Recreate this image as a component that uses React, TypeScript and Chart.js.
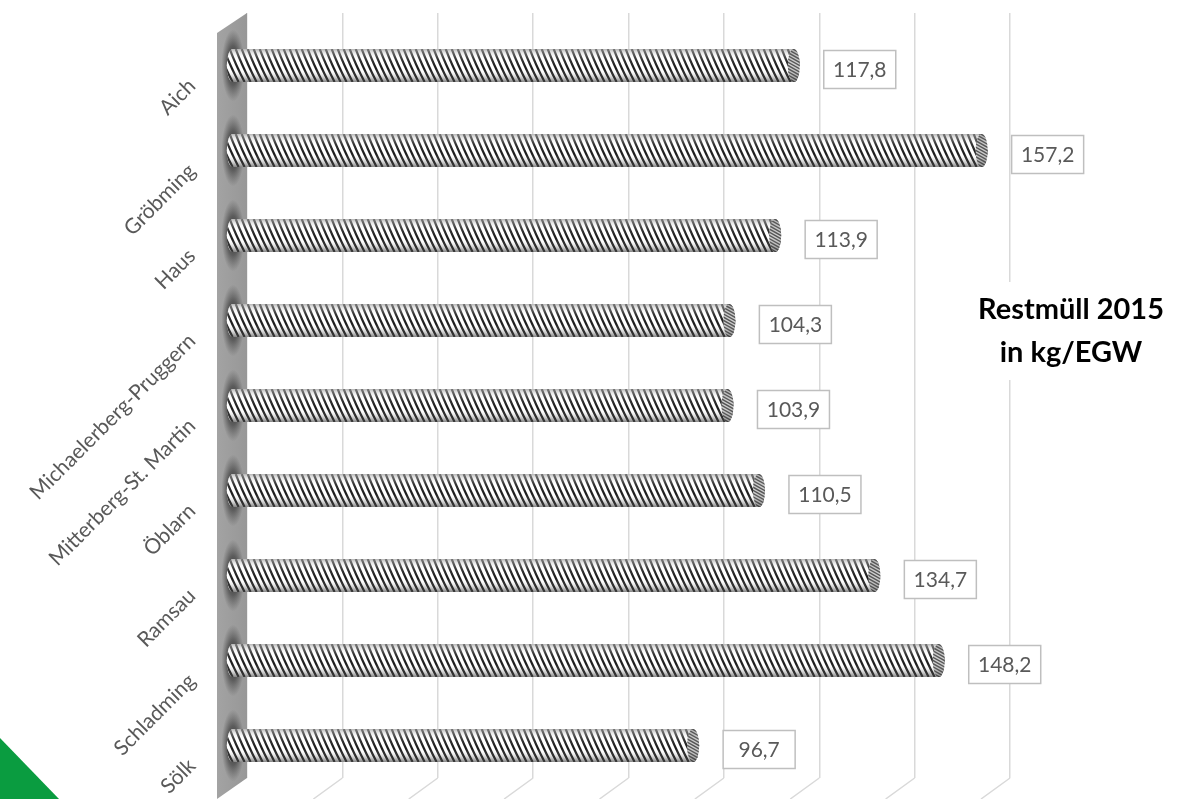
import React, { useEffect, useRef } from 'react';
import { Chart, registerables } from 'chart.js';

Chart.register(...registerables);

// ---- data ----
const categories = [
  'Aich',
  'Gröbming',
  'Haus',
  'Michaelerberg-Pruggern',
  'Mitterberg-St. Martin',
  'Öblarn',
  'Ramsau',
  'Schladming',
  'Sölk',
];
const values = [117.8, 157.2, 113.9, 104.3, 103.9, 110.5, 134.7, 148.2, 96.7];
const titleLines = ['Restmüll 2015', 'in kg/EGW'];
const axisMin = 0;
const axisMax = 160;
const gridStep = 20;

const fmt = (v: number) => v.toFixed(1).replace('.', ',');

// ---- style constants ----
const FRONT_DX = -9; // offset of the bar (front) plane vs. the grid (back) plane
const FRONT_DY = 10;
const DEPTH_X = 29; // depth of wall / floor
const DEPTH_Y = 21;
const FONT = 'Lato, "Open Sans", sans-serif';
const LABEL_COLOR = '#595959';
const GRID_COLOR = '#d9d9d9';

function drawCylinder(ctx: CanvasRenderingContext2D, xStart: number, xEnd: number, cy: number, h: number) {
  const rx = 6;
  const ry = h / 2;
  const top = cy - ry;
  const bot = cy + ry;
  const xc = xEnd - rx;
  const xl = xStart + rx;

  ctx.save();
  ctx.beginPath();
  ctx.moveTo(xl, top);
  ctx.lineTo(xc, top);
  ctx.ellipse(xc, cy, rx, ry, 0, -Math.PI / 2, Math.PI / 2);
  ctx.lineTo(xl, bot);
  ctx.ellipse(xl, cy, rx, ry, 0, Math.PI / 2, (3 * Math.PI) / 2);
  ctx.closePath();
  ctx.fillStyle = '#ffffff';
  ctx.fill();
  ctx.clip();

  // diagonal stripes
  ctx.strokeStyle = '#1a1a1a';
  ctx.lineWidth = 2.2;
  const shift = 0.45 * h;
  ctx.beginPath();
  for (let s = xStart - h; s < xEnd + h; s += 6) {
    ctx.moveTo(s, top);
    ctx.bezierCurveTo(s + shift * 0.25, top + h * 0.3, s + shift * 0.6, top + h * 0.65, s + shift, bot);
  }
  ctx.stroke();

  // cylinder shading
  const g = ctx.createLinearGradient(0, top, 0, bot);
  g.addColorStop(0, 'rgba(150,150,150,0.7)');
  g.addColorStop(0.12, 'rgba(200,200,200,0.4)');
  g.addColorStop(0.3, 'rgba(255,255,255,0.12)');
  g.addColorStop(0.6, 'rgba(255,255,255,0)');
  g.addColorStop(0.85, 'rgba(90,90,90,0.28)');
  g.addColorStop(1, 'rgba(70,70,70,0.65)');
  ctx.fillStyle = g;
  ctx.fillRect(xStart - 2, top - 1, xEnd - xStart + 4, h + 2);
  ctx.restore();

  // end face
  ctx.save();
  ctx.beginPath();
  ctx.ellipse(xc, cy, rx, ry, 0, 0, Math.PI * 2);
  ctx.fillStyle = '#c8c8c8';
  ctx.fill();
  ctx.clip();
  ctx.strokeStyle = 'rgba(30,30,30,0.8)';
  ctx.lineWidth = 1.4;
  ctx.beginPath();
  for (let s = top - 20; s < bot + 20; s += 3.2) {
    ctx.moveTo(xc - rx - 2, s);
    ctx.lineTo(xc + rx + 2, s + 9);
  }
  ctx.stroke();
  const g2 = ctx.createLinearGradient(0, top, 0, bot);
  g2.addColorStop(0, 'rgba(120,120,120,0.3)');
  g2.addColorStop(0.5, 'rgba(255,255,255,0.1)');
  g2.addColorStop(1, 'rgba(60,60,60,0.4)');
  ctx.fillStyle = g2;
  ctx.fillRect(xc - rx - 1, top - 1, rx * 2 + 2, h + 2);
  ctx.restore();
}

const threeDPlugin = {
  id: 'threeD',
  beforeDatasetsDraw(chart: any) {
    const { ctx, chartArea: a, scales } = chart;
    const x = scales.x;
    ctx.save();

    // floor depth lines
    ctx.strokeStyle = GRID_COLOR;
    ctx.lineWidth = 1.5;
    ctx.beginPath();
    for (let v = axisMin + gridStep; v <= axisMax; v += gridStep) {
      const px = x.getPixelForValue(v);
      ctx.moveTo(px, a.bottom);
      ctx.lineTo(px - DEPTH_X, a.bottom + DEPTH_Y);
    }
    ctx.stroke();

    // side wall
    const x0 = x.getPixelForValue(axisMin);
    ctx.beginPath();
    ctx.moveTo(x0 - 30, a.top + 20);
    ctx.lineTo(x0, a.top);
    ctx.lineTo(x0, a.bottom);
    ctx.lineTo(x0 - 30, a.bottom + DEPTH_Y);
    ctx.closePath();
    const wg = ctx.createLinearGradient(x0 - 30, 0, x0, 0);
    wg.addColorStop(0, '#a3a3a3');
    wg.addColorStop(1, '#979797');
    ctx.fillStyle = wg;
    ctx.fill();
    ctx.clip();

    // shadows of the bars on the wall
    const meta = chart.getDatasetMeta(0);
    meta.data.forEach((bar: any) => {
      const cy = bar.y + FRONT_DY;
      ctx.save();
      ctx.translate(x0 - 14, cy);
      ctx.scale(0.32, 1);
      const rg = ctx.createRadialGradient(0, 0, 0, 0, 0, 36);
      rg.addColorStop(0, 'rgba(25,25,25,0.9)');
      rg.addColorStop(0.55, 'rgba(40,40,40,0.55)');
      rg.addColorStop(1, 'rgba(60,60,60,0)');
      ctx.fillStyle = rg;
      ctx.beginPath();
      ctx.arc(0, 0, 36, 0, Math.PI * 2);
      ctx.fill();
      ctx.restore();
    });
    ctx.restore();
  },
  afterDatasetsDraw(chart: any) {
    const { ctx } = chart;
    const meta = chart.getDatasetMeta(0);
    meta.data.forEach((bar: any) => {
      const p = bar.getProps(['x', 'y', 'base', 'height'], true);
      drawCylinder(ctx, p.base + FRONT_DX - 12, p.x + FRONT_DX, p.y + FRONT_DY, p.height);
    });
  },
  afterDraw(chart: any) {
    const { ctx, chartArea: a, scales } = chart;
    const meta = chart.getDatasetMeta(0);
    ctx.save();

    // value labels in boxes
    meta.data.forEach((bar: any, i: number) => {
      const xEnd = bar.x + FRONT_DX;
      const cy = bar.y + FRONT_DY + 4;
      const bw = 72;
      const bh = 38;
      const bx = xEnd + 24;
      ctx.fillStyle = '#ffffff';
      ctx.fillRect(bx, cy - bh / 2, bw, bh);
      ctx.strokeStyle = '#bfbfbf';
      ctx.lineWidth = 1.5;
      ctx.strokeRect(bx, cy - bh / 2, bw, bh);
      ctx.fillStyle = LABEL_COLOR;
      ctx.font = `21px ${FONT}`;
      ctx.textAlign = 'center';
      ctx.textBaseline = 'middle';
      ctx.fillText(fmt(values[i]), bx + bw / 2, cy + 1);
    });

    // rotated category labels
    const y = scales.y;
    categories.forEach((c, i) => {
      const cy = y.getPixelForValue(i) + FRONT_DY;
      ctx.save();
      ctx.translate(a.left - 55, cy + 17);
      ctx.rotate(-Math.PI / 4);
      ctx.font = `21px ${FONT}`;
      ctx.fillStyle = LABEL_COLOR;
      ctx.textAlign = 'right';
      ctx.textBaseline = 'middle';
      ctx.fillText(c, 0, 0);
      ctx.restore();
    });

    // title block
    const tx = a.right + 61;
    ctx.fillStyle = '#ffffff';
    ctx.fillRect(tx - 98, 282, 196, 98);
    ctx.font = `bold 100px ${FONT}`;
    const w0 = ctx.measureText(titleLines[0]).width;
    const size = (100 * 186) / w0;
    ctx.font = `bold ${size}px ${FONT}`;
    ctx.fillStyle = '#000000';
    ctx.textAlign = 'center';
    ctx.textBaseline = 'middle';
    ctx.fillText(titleLines[0], tx, 310);
    ctx.fillText(titleLines[1], tx, 353);

    // green corner
    ctx.fillStyle = '#0a9c40';
    ctx.beginPath();
    ctx.moveTo(0, 738);
    ctx.lineTo(59, 799);
    ctx.lineTo(0, 799);
    ctx.closePath();
    ctx.fill();

    ctx.restore();
  },
};

export default function App() {
  const canvasRef = useRef<HTMLCanvasElement | null>(null);

  useEffect(() => {
    const canvas = canvasRef.current;
    if (!canvas) return;
    const chart = new Chart(canvas, {
      type: 'bar',
      data: {
        labels: categories,
        datasets: [
          {
            data: values,
            backgroundColor: 'rgba(0,0,0,0)',
            borderWidth: 0,
            barThickness: 33,
          },
        ],
      },
      options: {
        indexAxis: 'y',
        responsive: false,
        animation: false,
        layout: { padding: { left: 247, right: 176, top: 13, bottom: 21 } },
        plugins: {
          legend: { display: false },
          tooltip: { enabled: false },
          title: { display: false },
        },
        scales: {
          x: {
            min: axisMin,
            max: axisMax,
            ticks: { display: false, stepSize: gridStep },
            grid: { color: GRID_COLOR, lineWidth: 1.5, drawTicks: false },
            border: { display: false },
          },
          y: {
            display: false,
          },
        },
      },
      plugins: [threeDPlugin],
    } as any);
    return () => chart.destroy();
  }, []);

  return (
    <div style={{ position: 'fixed', left: 0, top: 0, width: 1186, height: 799, background: '#ffffff' }}>
      <canvas ref={canvasRef} width={1186} height={799} style={{ display: 'block' }} />
    </div>
  );
}
